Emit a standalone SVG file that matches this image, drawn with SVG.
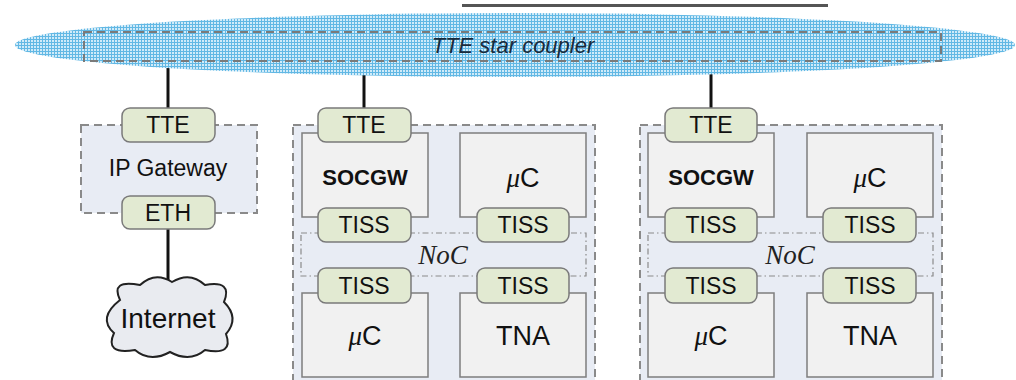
<svg xmlns="http://www.w3.org/2000/svg" width="1016" height="380" viewBox="0 0 1016 380">
<defs>
<pattern id="grid" width="3" height="3" patternUnits="userSpaceOnUse">
<rect width="3" height="3" fill="#d0ebf9"/>
<path d="M0,0.5H3M0.5,0V3" stroke="#62b8e4" stroke-width="1"/>
</pattern>
<style>
.tab{fill:#e2ead2;stroke:#7a7a7a;stroke-width:1.5}
.box{fill:#f1f1f1;stroke:#7d7d7d;stroke-width:1.5}
.outer{fill:#e8ecf4;stroke:#8a8a8a;stroke-width:2;stroke-dasharray:8 5}
.noc{fill:none;stroke:#8a8a8a;stroke-width:1.2;stroke-dasharray:6 3 1.5 3}
.wire{stroke:#111;stroke-width:3;fill:none}
.t{font-family:"Liberation Sans",Arial,sans-serif;font-size:23px;fill:#111;text-anchor:middle}
.inet{font-family:"Liberation Sans",Arial,sans-serif;font-size:28px;fill:#111;text-anchor:middle}
.b{font-family:"Liberation Sans",Arial,sans-serif;font-size:22px;font-weight:bold;fill:#111;text-anchor:middle}
.big{font-family:"Liberation Sans",Arial,sans-serif;font-size:27px;fill:#111;text-anchor:middle}
.mu{font-family:"Liberation Serif","Times New Roman",serif;font-style:italic}
.nocT{font-family:"Liberation Serif","Times New Roman",serif;font-style:italic;font-size:27px;fill:#222;text-anchor:middle}
</style>
</defs>
<rect x="462" y="4" width="366" height="3" fill="#555"/>
<g id="connectors">
<line class="wire" x1="168" y1="60" x2="168" y2="110"/>
<line class="wire" x1="364" y1="60" x2="364" y2="110"/>
<line class="wire" x1="711" y1="60" x2="711" y2="110"/>
<line class="wire" x1="168" y1="228" x2="168" y2="282"/>
</g>
<g id="star-coupler">
<ellipse cx="515" cy="45" rx="500" ry="32" fill="url(#grid)"/>
<rect x="84" y="32" width="857" height="29" fill="none" stroke="#7a7a7a" stroke-width="2" stroke-dasharray="8 5"/>
<text x="513" y="53" font-family="Liberation Sans,Arial,sans-serif" font-style="italic" font-size="22" fill="#1a2a3a" text-anchor="middle">TTE star coupler</text>
</g>
<g id="ip-gateway">
<rect class="outer" x="81" y="125" width="176" height="88"/>
<text class="t" x="168" y="176">IP Gateway</text>
<rect class="tab" x="122" y="108" width="93" height="34" rx="8"/>
<text class="t" x="168" y="133">TTE</text>
<rect class="tab" x="122" y="196" width="93" height="33" rx="8"/>
<text class="t" x="168" y="221">ETH</text>
</g>
<g id="internet">
<path d="M120,300 Q110,279 140,285 Q155,271 172,282 Q190,271 205,285 Q233,280 224,302 Q240,318 226,334 Q234,356 205,350 Q190,363 170,352 Q150,363 135,350 Q104,355 114,333 Q97,318 120,300 Z" fill="#e9ebf0" stroke="#222" stroke-width="2"/>
<text class="inet" x="168" y="328">Internet</text>
</g>
<g id="cluster1">
<rect class="outer" x="293" y="125" width="302" height="262"/>
<rect class="box" x="302" y="133" width="126" height="84"/>
<text class="b" x="365" y="185">SOCGW</text>
<rect class="box" x="460" y="133" width="126" height="84"/>
<text class="big" x="523" y="187"><tspan class="mu">μ</tspan>C</text>
<rect class="noc" x="301" y="233" width="285" height="43"/>
<text class="nocT" x="443" y="264">NoC</text>
<rect class="box" x="302" y="293" width="126" height="84"/>
<text class="big" x="365" y="345"><tspan class="mu">μ</tspan>C</text>
<rect class="box" x="460" y="293" width="126" height="84"/>
<text class="big" x="523" y="345">TNA</text>
<rect class="tab" x="318" y="108" width="93" height="34" rx="8"/>
<text class="t" x="364" y="133">TTE</text>
<rect class="tab" x="318" y="208" width="93" height="34" rx="8"/>
<text class="t" x="364" y="233">TISS</text>
<rect class="tab" x="477" y="208" width="92" height="34" rx="8"/>
<text class="t" x="523" y="233">TISS</text>
<rect class="tab" x="318" y="268" width="93" height="35" rx="8"/>
<text class="t" x="364" y="294">TISS</text>
<rect class="tab" x="477" y="268" width="92" height="35" rx="8"/>
<text class="t" x="523" y="294">TISS</text>
</g>
<g id="cluster2">
<rect class="outer" x="640" y="125" width="302" height="262"/>
<rect class="box" x="648" y="133" width="126" height="84"/>
<text class="b" x="711" y="185">SOCGW</text>
<rect class="box" x="807" y="133" width="126" height="84"/>
<text class="big" x="870" y="187"><tspan class="mu">μ</tspan>C</text>
<rect class="noc" x="648" y="233" width="285" height="43"/>
<text class="nocT" x="790" y="264">NoC</text>
<rect class="box" x="648" y="293" width="126" height="84"/>
<text class="big" x="711" y="345"><tspan class="mu">μ</tspan>C</text>
<rect class="box" x="807" y="293" width="126" height="84"/>
<text class="big" x="870" y="345">TNA</text>
<rect class="tab" x="665" y="108" width="92" height="34" rx="8"/>
<text class="t" x="711" y="133">TTE</text>
<rect class="tab" x="665" y="208" width="92" height="34" rx="8"/>
<text class="t" x="711" y="233">TISS</text>
<rect class="tab" x="823" y="208" width="93" height="34" rx="8"/>
<text class="t" x="870" y="233">TISS</text>
<rect class="tab" x="665" y="268" width="92" height="35" rx="8"/>
<text class="t" x="711" y="294">TISS</text>
<rect class="tab" x="823" y="268" width="93" height="35" rx="8"/>
<text class="t" x="870" y="294">TISS</text>
</g>
</svg>
